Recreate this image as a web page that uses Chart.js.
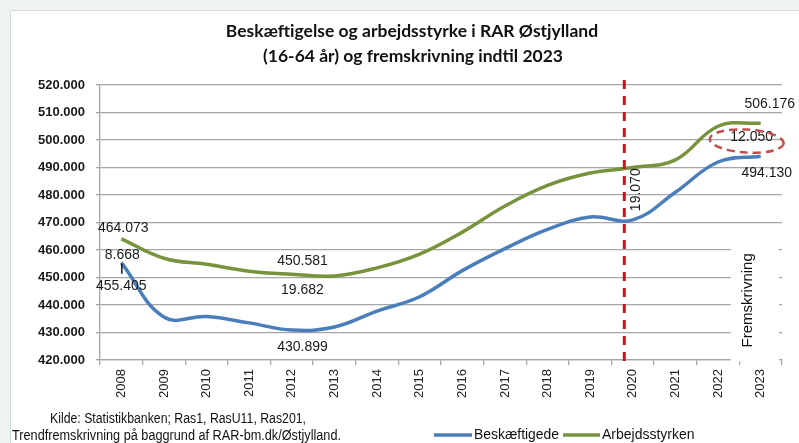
<!DOCTYPE html>
<html>
<head>
<meta charset="utf-8">
<script src="https://cdn.jsdelivr.net/npm/chart.js@4.4.1/dist/chart.umd.min.js"></script>
<style>
  html, body { margin: 0; padding: 0; background: #eef3f4; }
  #wrap { width: 799px; height: 443px; position: relative; }
</style>
</head>
<body>
<div id="wrap"><canvas id="chart" width="799" height="443"></canvas></div>
<script>
/* ── DATA ── */
const years = ['2008','2009','2010','2011','2012','2013','2014','2015',
               '2016','2017','2018','2019','2020','2021','2022','2023'];

const beskaeftigede  = [455405, 435600, 435800, 433500, 430899, 432000, 437800, 443000,
                        452500, 460500, 467500, 472000, 470930, 481000, 492000, 494130];
const arbejdsstyrken = [464073, 457000, 454800, 452300, 451200, 450581, 453500, 458500,
                        466500, 476000, 483500, 488000, 490000, 492800, 505000, 506176];

const yTicks = [420000, 430000, 440000, 450000, 460000, 470000,
                480000, 490000, 500000, 510000, 520000];

// gap between the two series as written in the original (2008, minima, 2020, 2023)
const gapLabels = [8668, 19682, 19070, 12050];

const titleLines  = ['Beskæftigelse og arbejdsstyrke i RAR Østjylland',
                     '(16-64 år) og fremskrivning indtil 2023'];
const sourceLines = ['Kilde: Statistikbanken; Ras1, RasU11, Ras201,',
                     'Trendfremskrivning på baggrund af RAR-bm.dk/Østjylland.'];
const forecastText = 'Fremskrivning';

const BLUE  = '#4a7ebb';
const GREEN = '#77933c';
const RED   = '#c8151b';
const GRID  = '#a6a6a6';

const fmt = v => String(Math.round(v)).replace(/\B(?=(\d{3})+(?!\d))/g, '.');

/* ── PLUGINS ── */
const framePlugin = {
  id: 'frame',
  beforeDraw(chart) {
    const { ctx, width, height } = chart;
    ctx.save();
    ctx.fillStyle = '#eef3f4';
    ctx.fillRect(0, 0, width, height);
    ctx.fillStyle = '#fff';
    ctx.fillRect(10, 10, width - 10, height - 10);
    ctx.strokeStyle = '#d4d9db';
    ctx.lineWidth = 1;
    ctx.beginPath();
    ctx.moveTo(10.5, height);
    ctx.lineTo(10.5, 10.5);
    ctx.lineTo(width, 10.5);
    ctx.stroke();
    ctx.restore();
  }
};

// white box over the gridlines with the "Fremskrivning" text
const forecastBox = {
  id: 'forecastBox',
  beforeDatasetsDraw(chart) {
    const { ctx, scales: { x, y } } = chart;
    const left  = x.getPixelForValue(14.3);
    const right = x.getPixelForValue(15.43);
    const top   = y.getPixelForValue(464500);
    const bot   = y.getPixelForValue(420000) + 1.5;
    ctx.save();
    ctx.fillStyle = '#fff';
    ctx.fillRect(left, top, right - left, bot - top);
    ctx.translate((left + right) / 2 - 7, y.getPixelForValue(441700));
    ctx.rotate(-Math.PI / 2);
    ctx.fillStyle = '#111';
    ctx.font = '15px "Liberation Sans", Arial, sans-serif';
    ctx.textAlign = 'center';
    ctx.textBaseline = 'middle';
    ctx.fillText(forecastText, 0, 0, 95);
    ctx.restore();
  }
};

const annotations = {
  id: 'annotations',
  afterDraw(chart) {
    const { ctx, chartArea, scales: { x, y } } = chart;
    const n = years.length - 1;
    const px = i => x.getPixelForValue(i);
    const py = v => y.getPixelForValue(v);

    ctx.save();
    // title
    ctx.fillStyle = '#111';
    ctx.font = 'bold 17.5px Lato, "Liberation Sans", Arial, sans-serif';
    ctx.textAlign = 'center';
    ctx.textBaseline = 'middle';
    ctx.fillText(titleLines[0], 412, 31, 419);
    ctx.fillText(titleLines[1], 413, 56, 338);

    // red dashed divider before the forecast
    const divX = px(11.8);
    ctx.strokeStyle = RED;
    ctx.lineWidth = 3;
    ctx.setLineDash([9, 7]);
    ctx.beginPath();
    ctx.moveTo(divX, chartArea.top - 5);
    ctx.lineTo(divX, chartArea.bottom + 5);
    ctx.stroke();
    ctx.setLineDash([]);

    // value labels
    ctx.fillStyle = '#1a1a1a';
    ctx.font = '14px "Liberation Sans", Arial, sans-serif';
    const text = (s, tx, ty) => ctx.fillText(s, tx, ty);

    const gMin = Math.min(...arbejdsstyrken);
    const bMin = Math.min(...beskaeftigede);
    const gY0 = py(arbejdsstyrken[0]), bY0 = py(beskaeftigede[0]);

    text(fmt(arbejdsstyrken[0]), px(0) + 2, gY0 - 11);
    text(fmt(gapLabels[0]), px(0) + 1, (gY0 + bY0) / 2 + 4);
    text(fmt(beskaeftigede[0]), px(0), bY0 + 24);

    ctx.strokeStyle = '#111';
    ctx.lineWidth = 1.5;
    ctx.beginPath();
    ctx.moveTo(px(0) + 0.5, bY0 + 1);
    ctx.lineTo(px(0) + 0.5, bY0 + 11);
    ctx.stroke();

    text(fmt(gMin), px(4.25), py(gMin) - 15);
    text(fmt(gapLabels[1]), px(4.25), py(gMin) + 14);
    text(fmt(bMin), px(4.25), py(bMin) + 17);

    text(fmt(arbejdsstyrken[n]), px(n) + 9, py(arbejdsstyrken[n]) - 19);
    text(fmt(gapLabels[3]), px(n) - 9, (py(arbejdsstyrken[n]) + py(beskaeftigede[n])) / 2 - 2);
    text(fmt(beskaeftigede[n]), px(n) + 6, py(beskaeftigede[n]) + 17);

    // rotated gap at 2020
    ctx.save();
    ctx.translate(divX + 12, (py(arbejdsstyrken[12]) + py(beskaeftigede[12])) / 2 - 4);
    ctx.rotate(-Math.PI / 2);
    ctx.fillText(fmt(gapLabels[2]), 0, 0);
    ctx.restore();

    // dashed ellipse around the 2023 gap
    ctx.strokeStyle = '#c0504d';
    ctx.lineWidth = 2.5;
    ctx.setLineDash([8, 5]);
    ctx.beginPath();
    ctx.ellipse(px(n) - 14, (py(arbejdsstyrken[n]) + py(beskaeftigede[n])) / 2 + 1.5,
                37, 11.5, 0.06, 0, Math.PI * 2);
    ctx.stroke();
    ctx.setLineDash([]);

    // source note
    ctx.textAlign = 'left';
    ctx.fillStyle = '#111';
    ctx.font = '14px "Liberation Sans", Arial, sans-serif';
    ctx.fillText(sourceLines[0], 50, 419, 256);
    ctx.fillText(sourceLines[1], 12, 436, 329);

    // legend
    const items = chart.data.datasets.map((d, i) => ({ label: d.label, color: d.borderColor,
                                                       x0: [434, 563][i], x1: [472, 600][i],
                                                       w: [85, 99][i] }));
    items.forEach(it => {
      ctx.strokeStyle = it.color;
      ctx.lineWidth = 3.5;
      ctx.beginPath();
      ctx.moveTo(it.x0, 435);
      ctx.lineTo(it.x1, 435);
      ctx.stroke();
      ctx.fillStyle = '#111';
      ctx.fillText(it.label, it.x1 + 2, 435, it.w);
    });
    ctx.restore();
  }
};

/* ── CHART ── */
new Chart(document.getElementById('chart').getContext('2d'), {
  type: 'line',
  plugins: [framePlugin, forecastBox, annotations],
  data: {
    labels: years,
    datasets: [
      { label: 'Beskæftigede', data: beskaeftigede, borderColor: BLUE,
        borderWidth: 3.5, pointRadius: 0, tension: 0.4, fill: false },
      { label: 'Arbejdsstyrken', data: arbejdsstyrken, borderColor: GREEN,
        borderWidth: 3.5, pointRadius: 0, tension: 0.4, fill: false }
    ]
  },
  options: {
    responsive: false,
    animation: false,
    layout: { padding: { top: 85, left: 0, right: 17, bottom: 0 } },
    plugins: { legend: { display: false }, title: { display: false }, tooltip: { enabled: false } },
    scales: {
      x: {
        offset: true,
        afterFit: s => { s.height = 83; },
        grid: { drawOnChartArea: false, offset: true, tickLength: 5, color: GRID, lineWidth: 1.3 },
        border: { color: GRID, width: 1.3 },
        ticks: { minRotation: 90, maxRotation: 90, padding: 4, color: '#222',
                 font: { family: '"Liberation Sans", Arial, sans-serif', size: 13 } }
      },
      y: {
        min: yTicks[0], max: yTicks[yTicks.length - 1],
        afterFit: s => { s.width = 100; },
        afterBuildTicks: s => { s.ticks = yTicks.map(v => ({ value: v })); },
        grid: { color: GRID, lineWidth: 1.3, tickLength: 4 },
        border: { color: GRID, width: 1.3 },
        ticks: { padding: 11, color: '#1a1a1a', callback: v => fmt(v),
                 font: { family: '"Liberation Sans", Arial, sans-serif', size: 13, weight: 'bold' } }
      }
    }
  }
});
</script>
</body>
</html>
